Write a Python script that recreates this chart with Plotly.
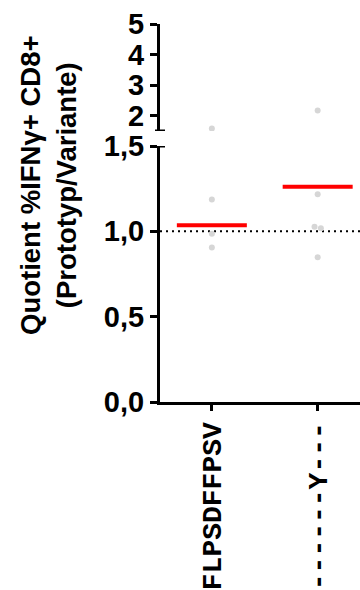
import plotly.graph_objects as go

# Peptide variants (x categories)
peptides = ["FLPSDFFPSV", "------Y---"]

# Individual ratios per peptide
ratios_fl = [1.58, 1.186, 0.986, 0.906]
ratios_y = [2.175, 1.217, 1.027, 1.018, 0.848]

# Group summary lines
group_lines = [1.035, 1.261]

# Tick labels
low_ticks = [0.0, 0.5, 1.0, 1.5]
low_ticktext = ["0,0", "0,5", "1,0", "1,5"]
high_ticks = [2, 3, 4, 5]
high_ticktext = ["2", "3", "4", "5"]

BREAK = 1.5
SANS = "Liberation Sans"
MONO = "Liberation Mono"


def spread(values, center, step=0.03, tol=0.02):
    """Offset near-identical values sideways so the dots stay visible."""
    xs = []
    for i, v in enumerate(values):
        close = [j for j, w in enumerate(values) if abs(w - v) < tol]
        if len(close) > 1:
            k = close.index(i)
            xs.append(center + (k - (len(close) - 1) / 2) * 2 * step)
        else:
            xs.append(center)
    return xs


fig = go.Figure()

groups = [ratios_fl, ratios_y]
for gi, vals in enumerate(groups):
    xs = spread(vals, gi)
    lo_x = [x for x, v in zip(xs, vals) if v <= BREAK]
    lo_y = [v for v in vals if v <= BREAK]
    hi_x = [x for x, v in zip(xs, vals) if v > BREAK]
    hi_y = [v for v in vals if v > BREAK]
    fig.add_trace(go.Scatter(x=lo_x, y=lo_y, mode="markers", yaxis="y",
                             marker=dict(color="#d6d6d6", size=6),
                             showlegend=False, hoverinfo="skip"))
    fig.add_trace(go.Scatter(x=hi_x, y=hi_y, mode="markers", yaxis="y2",
                             marker=dict(color="#d6d6d6", size=6),
                             showlegend=False, hoverinfo="skip"))

# Summary bars
fig.add_trace(go.Scatter(
    x=list(range(len(peptides))), y=group_lines, mode="markers", yaxis="y",
    marker=dict(symbol="line-ew", size=50,
                line=dict(color="#ff0000", width=4)),
    showlegend=False, hoverinfo="skip"))

# Reference line at ratio 1
fig.add_shape(type="line", xref="x domain", yref="y", x0=0, x1=1, y0=1, y1=1,
              line=dict(color="black", width=2, dash="2px,4px"), layer="below")

# Axis-break caps
xa = 160 / 360
cap = 5 / 360
for yref, yv in (("y", BREAK), ("y2", BREAK)):
    fig.add_shape(type="line", xref="paper", yref=yref, x0=xa - cap, x1=xa + cap,
                  y0=yv, y1=yv, line=dict(color="black", width=3))

axis_common = dict(showline=True, linecolor="black", linewidth=3,
                   ticks="outside", ticklen=7, tickwidth=3, tickcolor="black",
                   showgrid=False, zeroline=False, automargin=False,
                   tickfont=dict(family=SANS, size=29, color="black", weight="bold"))

fig.update_layout(
    width=360, height=590,
    margin=dict(l=0, r=0, t=0, b=0, autoexpand=False),
    paper_bgcolor="white", plot_bgcolor="white",
    separators=",.",
    xaxis=dict(domain=[xa, 1], range=[-0.49, 1.40], showline=True,
               linecolor="black", linewidth=3, ticks="outside", ticklen=6,
               tickwidth=3, tickcolor="black", showgrid=False, zeroline=False,
               automargin=False,
               tickvals=list(range(len(peptides))), ticktext=peptides,
               tickangle=-90,
               tickfont=dict(family=MONO, size=28, color="black", weight="bold")),
    yaxis=dict(domain=[188 / 590, 444 / 590], range=[0, BREAK],
               tickvals=low_ticks, ticktext=low_ticktext, anchor="x",
               **axis_common),
    yaxis2=dict(domain=[459 / 590, 565.7 / 590], range=[BREAK, 5],
                tickvals=high_ticks, ticktext=high_ticktext, anchor="x",
                **axis_common),
    annotations=[dict(
        text="Quotient %IFNγ+ CD8+<br>(Prototyp/Variante)",
        xref="paper", yref="paper", x=48 / 360, y=(590 - 185) / 590,
        xanchor="center", yanchor="middle", textangle=-90, showarrow=False,
        font=dict(family=SANS, size=27.5, color="black", weight="bold"))],
)

fig.write_html("out.html")
